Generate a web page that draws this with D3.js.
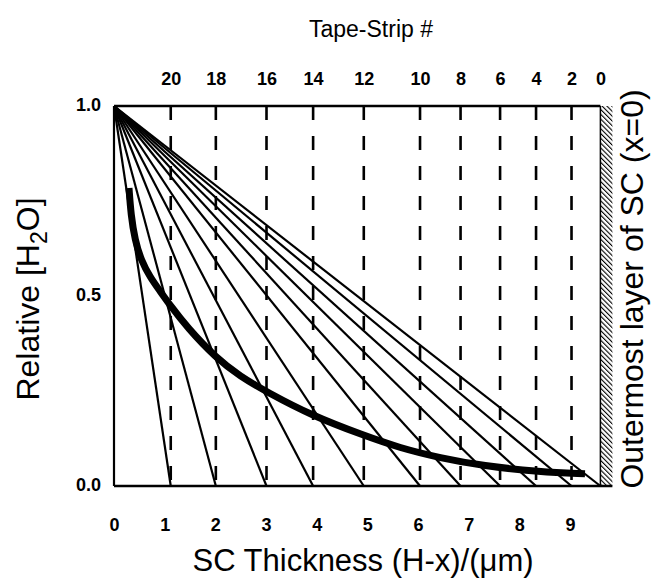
<!DOCTYPE html>
<html>
<head>
<meta charset="utf-8">
<script src="https://cdn.jsdelivr.net/npm/d3@7"></script>
<style>
  body { margin: 0; background: #fff; }
  svg { display: block; }
  text { font-family: "Liberation Sans", Arial, Helvetica, sans-serif; fill: #000; }
</style>
</head>
<body>
<svg id="chart" width="660" height="584"></svg>
<script>
// Tape-strip numbers along the top, and the SC depth (um) each one sits at
const stripNumbers = [20, 18, 16, 14, 12, 10, 8, 6, 4, 2, 0];
const stripDepth = [1.12, 2.01, 3.01, 3.93, 4.93, 6.04, 6.84, 7.62, 8.33, 9.03, 9.6];

// bottom / left tick values
const xTicks = [0, 1, 2, 3, 4, 5, 6, 7, 8, 9];
const yTicks = [0.0, 0.5, 1.0];

// thick profile curve
const profileX = [0.296, 0.335, 0.414, 0.533, 0.710, 0.908, 1.105, 1.441, 2.013, 2.487, 3.020, 3.927, 4.914, 5.644, 6.434, 7.283, 8.407, 9.296];
const profileY = [0.784, 0.713, 0.647, 0.595, 0.550, 0.513, 0.476, 0.418, 0.337, 0.289, 0.247, 0.184, 0.134, 0.100, 0.074, 0.053, 0.037, 0.032];

const svg = d3.select("#chart");

const x = d3.scaleLinear().domain([0, 9.6]).range([114, 600.4]);
const y = d3.scaleLinear().domain([0, 1]).range([486, 106]);

// hatch pattern for the outer layer
const defs = svg.append("defs");
const pat = defs.append("pattern")
    .attr("id", "hatch")
    .attr("patternUnits", "userSpaceOnUse")
    .attr("width", 3.4)
    .attr("height", 3.4)
    .attr("patternTransform", "rotate(-45)");
pat.append("line")
    .attr("x1", 0).attr("y1", 0)
    .attr("x2", 0).attr("y2", 3.4)
    .attr("stroke", "#000")
    .attr("stroke-width", 2.2);

svg.append("rect")
    .attr("x", x(9.6))
    .attr("y", y(1))
    .attr("width", 12)
    .attr("height", y(0) - y(1))
    .attr("fill", "url(#hatch)");

// dashed lines at each tape strip (not at 0, that's the surface)
svg.append("g")
    .selectAll("line")
    .data(stripDepth.slice(0, -1))
    .join("line")
    .attr("x1", d => x(d)).attr("x2", d => x(d))
    .attr("y1", y(1)).attr("y2", y(0))
    .attr("stroke", "#000")
    .attr("stroke-width", 2.6)
    .attr("stroke-dasharray", "14,16");

// fan of straight lines from (0,1) to each depth
svg.append("g")
    .selectAll("line")
    .data(stripDepth)
    .join("line")
    .attr("x1", x(0)).attr("y1", y(1))
    .attr("x2", d => x(d)).attr("y2", y(0))
    .attr("stroke", "#000")
    .attr("stroke-width", 2.2);

// thick profile
const profile = profileX.map((v, i) => [v, profileY[i]]);
svg.append("path")
    .datum(profile)
    .attr("fill", "none")
    .attr("stroke", "#000")
    .attr("stroke-width", 7)
    .attr("d", d3.line()
        .x(d => x(d[0]))
        .y(d => y(d[1]))
        .curve(d3.curveBasis));

// frame
const frame = svg.append("g").attr("stroke", "#000").attr("fill", "none");
frame.append("line").attr("x1", x(0)).attr("x2", x(9.6)).attr("y1", y(1)).attr("y2", y(1)).attr("stroke-width", 2.5);
frame.append("line").attr("x1", x(0)).attr("x2", x(9.6) + 12).attr("y1", y(0)).attr("y2", y(0)).attr("stroke-width", 2.5);
frame.append("line").attr("x1", x(0)).attr("x2", x(0)).attr("y1", y(1)).attr("y2", y(0)).attr("stroke-width", 2.2);
frame.append("line").attr("x1", x(9.6)).attr("x2", x(9.6)).attr("y1", y(1)).attr("y2", y(0)).attr("stroke-width", 1.5);

// axes (labels only)
const xAxis = svg.append("g")
    .attr("transform", `translate(0,${y(0)})`)
    .call(d3.axisBottom(x).tickValues(xTicks).tickSize(0).tickPadding(32).tickFormat(d3.format("d")));
xAxis.select(".domain").remove();

const yAxis = svg.append("g")
    .attr("transform", `translate(${x(0)},0)`)
    .call(d3.axisLeft(y).tickValues(yTicks).tickSize(0).tickPadding(13).tickFormat(d3.format(".1f")));
yAxis.select(".domain").remove();
yAxis.selectAll(".tick text").attr("dy", "0.25em");

const topAxis = svg.append("g")
    .attr("transform", `translate(0,${y(1)})`)
    .call(d3.axisTop(x).tickValues(stripDepth).tickSize(0).tickPadding(21)
        .tickFormat((d, i) => stripNumbers[i]));
topAxis.select(".domain").remove();

svg.selectAll(".tick text")
    .style("font-family", "'Liberation Sans', Arial, sans-serif")
    .style("font-size", "18px")
    .style("font-weight", "bold");

// titles
svg.append("text")
    .attr("x", 371).attr("y", 37)
    .attr("text-anchor", "middle")
    .style("font-size", "23px")
    .text("Tape-Strip #");

svg.append("text")
    .attr("x", 363).attr("y", 571)
    .attr("text-anchor", "middle")
    .style("font-size", "31px")
    .text("SC Thickness (H-x)/(\u03bcm)");

const yTitle = svg.append("text")
    .attr("transform", "translate(39,299) rotate(-90)")
    .attr("text-anchor", "middle")
    .style("font-size", "32px");
yTitle.append("tspan").text("Relative [H");
yTitle.append("tspan").attr("dy", 8).style("font-size", "23px").text("2");
yTitle.append("tspan").attr("dy", -8).text("O]");

svg.append("text")
    .attr("transform", "translate(643,289) rotate(-90)")
    .attr("text-anchor", "middle")
    .style("font-size", "32px")
    .text("Outermost layer of SC (x=0)");
</script>
</body>
</html>
